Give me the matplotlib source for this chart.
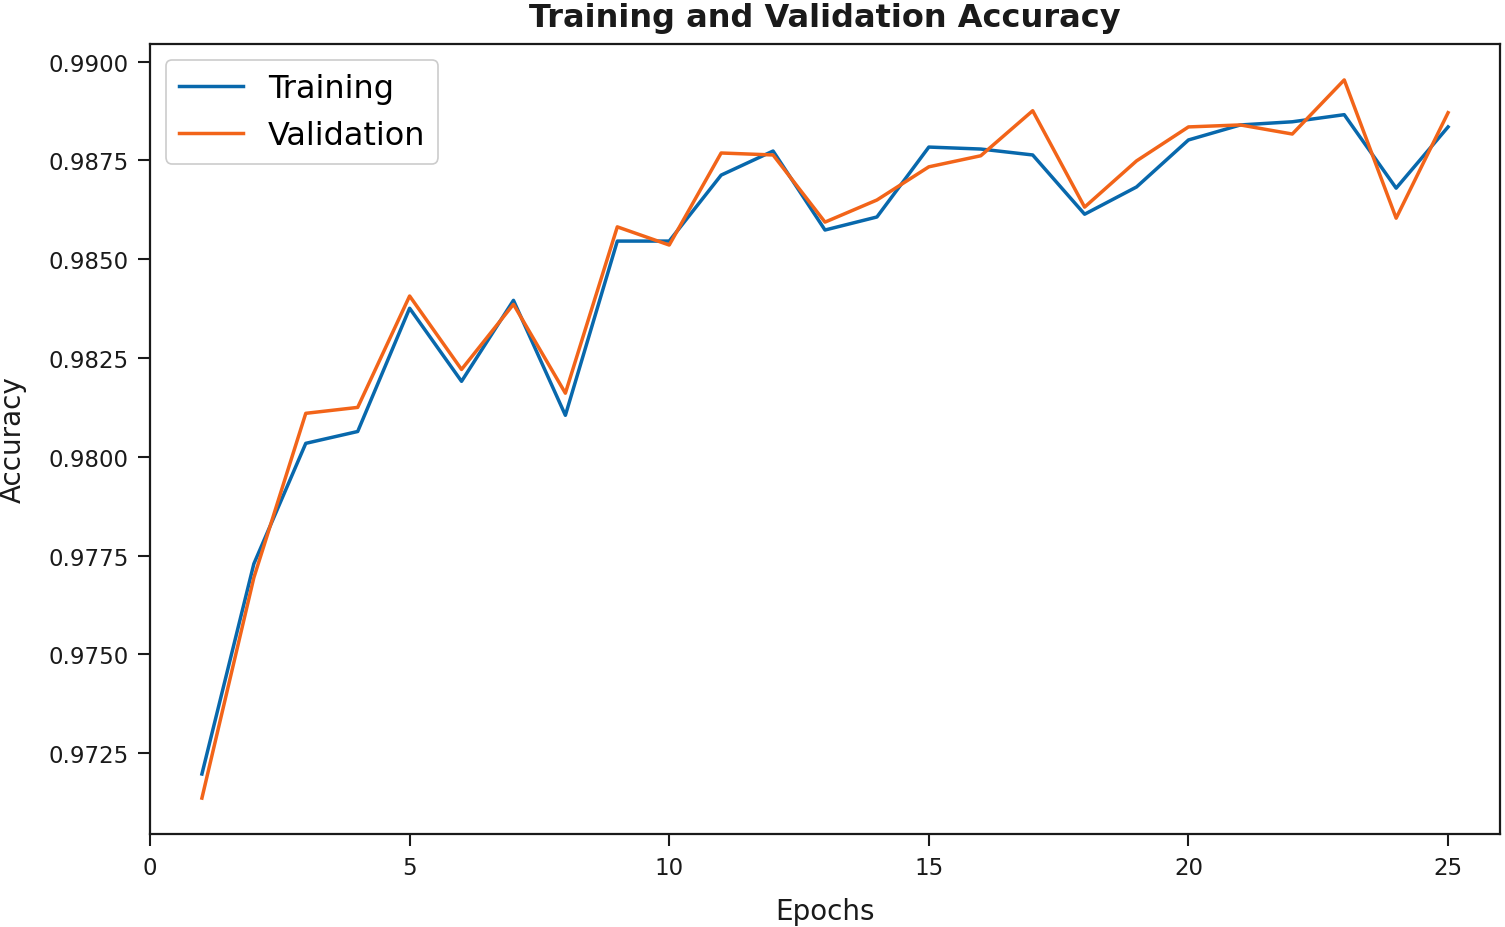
import matplotlib
matplotlib.use('Agg')
import matplotlib.pyplot as plt

# Accuracy per epoch
epochs = list(range(1, 26))
train_acc = [0.97197, 0.97729, 0.98034, 0.98064, 0.98376, 0.98191, 0.98396, 0.98105,
             0.98546, 0.98546, 0.98713, 0.98774, 0.98574, 0.98607, 0.98784, 0.98779,
             0.98764, 0.98614, 0.98683, 0.98802, 0.98840, 0.98848, 0.98866, 0.98680,
             0.98835]
val_acc = [0.97136, 0.97694, 0.98110, 0.98125, 0.98407, 0.98221, 0.98386, 0.98161,
           0.98582, 0.98536, 0.98769, 0.98764, 0.98594, 0.98650, 0.98734, 0.98762,
           0.98876, 0.98632, 0.98749, 0.98835, 0.98840, 0.98817, 0.98954, 0.98604,
           0.98871]
x_ticks = [0, 5, 10, 15, 20, 25]

fig = plt.figure(figsize=(15.05, 9.28), dpi=100)
ax = fig.add_axes([150 / 1505, 1 - 835 / 928, 1350 / 1505, 790 / 928])

ax.plot(epochs, train_acc, color='#0868ac', lw=2.5, label='Training')
ax.plot(epochs, val_acc, color='#f26419', lw=2.5, label='Validation')

ax.set_xlim(0, 26)
ax.set_xticks(x_ticks)
ax.yaxis.set_major_formatter(matplotlib.ticker.FormatStrFormatter('%.4f'))
ax.tick_params(labelsize=16.5, length=8.5, width=1.5, pad=7, colors='#1a1a1a')
for s in ax.spines.values():
    s.set_linewidth(1.6)
    s.set_color('#1a1a1a')

ax.set_title('Training and Validation Accuracy', fontsize=23, fontweight='bold',
             color='#1a1a1a', pad=13)
ax.set_xlabel('Epochs', fontsize=20, color='#1a1a1a', labelpad=13)
ax.set_ylabel('Accuracy', fontsize=20, color='#1a1a1a', labelpad=15)

leg = ax.legend(loc='upper left', fontsize=23, framealpha=1, borderaxespad=0.5)
leg.get_frame().set_linewidth(1.2)
for line in leg.get_lines():
    line.set_linewidth(2.5)

fig.savefig('out.png', dpi=100)
